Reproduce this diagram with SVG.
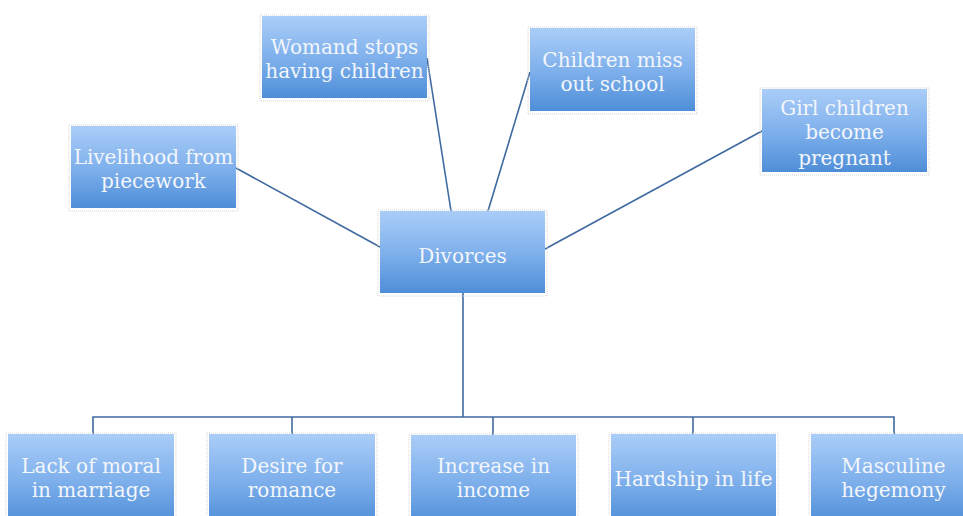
<svg xmlns="http://www.w3.org/2000/svg" width="963" height="516" viewBox="0 0 963 516">
  <defs>
    <linearGradient id="boxFill" x1="0" y1="0" x2="0" y2="1">
      <stop offset="0" stop-color="#aacdf8"/>
      <stop offset="0.5" stop-color="#80b1ec"/>
      <stop offset="1" stop-color="#4e8ed8"/>
    </linearGradient>
  </defs>
  <style>
    .box { fill: url(#boxFill); }
    .shadow { fill: none; stroke: #d4d4d4; stroke-width: 1; stroke-dasharray: 1 1; }
    .label { font-family: "DejaVu Serif", "Liberation Serif", serif; font-size: 20px; fill: #f3f6fb; text-anchor: middle; }
    .link { fill: none; stroke: #3f6aa0; stroke-width: 1.6; }
  </style>
  <rect width="963" height="516" fill="#ffffff"/>

  <g id="connectors">
    <line class="link" x1="236" y1="168" x2="380" y2="247"/>
    <line class="link" x1="427" y1="58" x2="451" y2="211"/>
    <line class="link" x1="530" y1="72" x2="488" y2="211"/>
    <line class="link" x1="762" y1="131" x2="545" y2="249"/>
    <line class="link" x1="463" y1="293" x2="463" y2="417"/>
    <polyline class="link" points="93,435 93,417 894,417 894,435"/>
    <line class="link" x1="292" y1="417" x2="292" y2="435"/>
    <line class="link" x1="493" y1="417" x2="493" y2="435"/>
    <line class="link" x1="693" y1="417" x2="693" y2="435"/>
  </g>

  <g id="livelihood">
    <rect class="shadow" x="69" y="125" width="169" height="86"/>
    <rect class="box" x="71" y="126" width="165" height="82"/>
    <text class="label" x="153.5" y="164">Livelihood from</text>
    <text class="label" x="153.5" y="188">piecework</text>
  </g>

  <g id="woman-stops">
    <rect class="shadow" x="260" y="15" width="169" height="86"/>
    <rect class="box" x="262" y="16" width="165" height="82"/>
    <text class="label" x="344.5" y="54">Womand stops</text>
    <text class="label" x="344.5" y="78">having children</text>
  </g>

  <g id="children-school">
    <rect class="shadow" x="528" y="27" width="169" height="87"/>
    <rect class="box" x="530" y="28" width="165" height="83"/>
    <text class="label" x="612.5" y="67">Children miss</text>
    <text class="label" x="612.5" y="91">out school</text>
  </g>

  <g id="girl-children">
    <rect class="shadow" x="760" y="88" width="169" height="87"/>
    <rect class="box" x="762" y="89" width="165" height="83"/>
    <text class="label" x="844.5" y="115">Girl children</text>
    <text class="label" x="844.5" y="139">become</text>
    <text class="label" x="844.5" y="165">pregnant</text>
  </g>

  <g id="divorces">
    <rect class="shadow" x="378" y="210" width="169" height="86"/>
    <rect class="box" x="380" y="211" width="165" height="82"/>
    <text class="label" x="462.5" y="263">Divorces</text>
  </g>

  <g id="lack-of-moral">
    <rect class="shadow" x="6" y="433" width="170" height="90"/>
    <rect class="box" x="8" y="434" width="166" height="90"/>
    <text class="label" x="91" y="473">Lack of moral</text>
    <text class="label" x="91" y="497">in marriage</text>
  </g>

  <g id="desire-romance">
    <rect class="shadow" x="207" y="433" width="170" height="90"/>
    <rect class="box" x="209" y="434" width="166" height="90"/>
    <text class="label" x="292" y="473">Desire for</text>
    <text class="label" x="292" y="497">romance</text>
  </g>

  <g id="increase-income">
    <rect class="shadow" x="409" y="434" width="169" height="90"/>
    <rect class="box" x="411" y="435" width="165" height="90"/>
    <text class="label" x="493.5" y="473">Increase in</text>
    <text class="label" x="493.5" y="497">income</text>
  </g>

  <g id="hardship">
    <rect class="shadow" x="609" y="433" width="169" height="90"/>
    <rect class="box" x="611" y="434" width="165" height="90"/>
    <text class="label" x="693.5" y="486">Hardship in life</text>
  </g>

  <g id="masculine">
    <rect class="shadow" x="809" y="433" width="169" height="90"/>
    <rect class="box" x="811" y="434" width="165" height="90"/>
    <text class="label" x="893.5" y="473">Masculine</text>
    <text class="label" x="893.5" y="497">hegemony</text>
  </g>
</svg>
